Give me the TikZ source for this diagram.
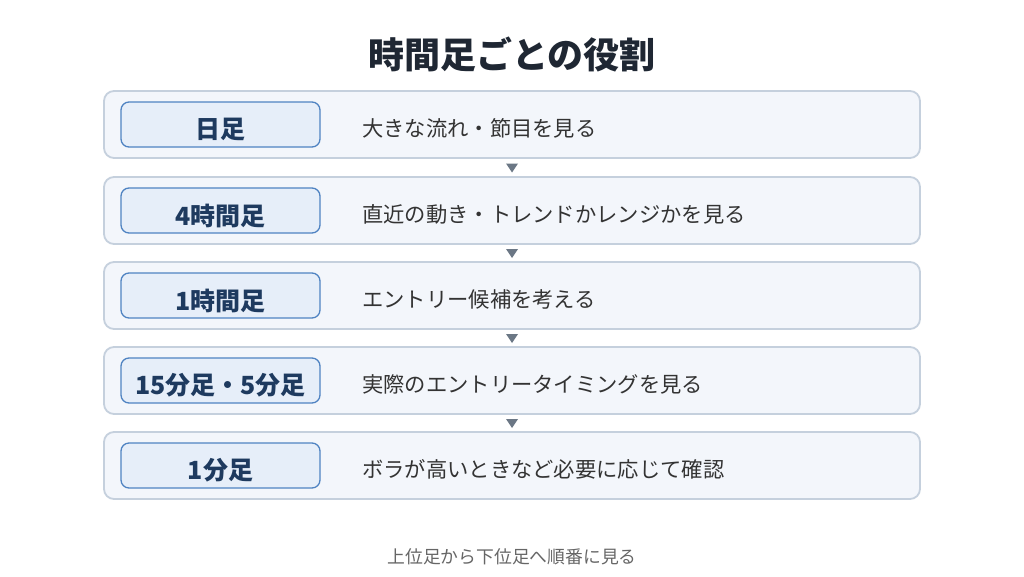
\documentclass[tikz,border=0pt]{standalone}
\usepackage{fontspec}
\setmainfont{Noto Sans CJK JP}
\begin{document}
\begin{tikzpicture}[x=1pt,y=-1pt,
  rowbox/.style={draw=rowborder,line width=1.8pt,fill=rowfill,rounded corners=10pt,minimum width=816pt,minimum height=67pt,inner sep=0pt},
  labbox/.style={draw=labborder,line width=1.3pt,fill=labfill,rounded corners=8pt,minimum width=199pt,minimum height=45pt,inner sep=0pt},
  labtext/.style={font=\bfseries\fontsize{25}{28}\selectfont,text=labtextc,anchor=center,inner sep=0pt},
  desc/.style={font=\fontsize{21.3}{24}\selectfont,text=desctext,anchor=west,inner sep=0pt},
  tri/.style={fill=arrowc,draw=none}]
\definecolor{rowborder}{HTML}{C5D0DD}
\definecolor{rowfill}{HTML}{F3F6FB}
\definecolor{labborder}{HTML}{4F83C2}
\definecolor{labfill}{HTML}{E6EEF9}
\definecolor{labtextc}{HTML}{1E3A5F}
\definecolor{desctext}{HTML}{333333}
\definecolor{arrowc}{HTML}{6B7785}
\definecolor{titlec}{HTML}{1F2733}
\definecolor{footc}{HTML}{666666}
\useasboundingbox[fill=white] (0,0) rectangle (1024,576);
\node[font=\bfseries\fontsize{36}{40}\selectfont,text=titlec] (title) at (512,54) {時間足ごとの役割};
\foreach \i/\y/\lab/\d in {1/124.5/日足/大きな流れ・節目を見る,
  2/210.5/4時間足/直近の動き・トレンドかレンジかを見る,
  3/295.5/1時間足/エントリー候補を考える,
  4/380.5/15分足・5分足/実際のエントリータイミングを見る,
  5/465.5/1分足/ボラが高いときなど必要に応じて確認}{
  \node[rowbox] (row\i) at (512,\y) {};
  \node[labbox] (lab\i) at (220.5,\y) {};
  \node[labtext] (labt\i) at (220.5,\y+5) {\lab};
  \node[desc] (desc\i) at (362,\y+4) {\d};
}
\foreach \a/\b in {1/2,2/3,3/4,4/5}{
  \path (row\a.south) -- (row\b.north) coordinate[pos=0.5] (mid\a);
  \fill[arrowc] ([xshift=-6pt,yshift=4pt]mid\a) -- ([xshift=6pt,yshift=4pt]mid\a) -- ([yshift=-5pt]mid\a) -- cycle;
}
\node[font=\fontsize{17.8}{21}\selectfont,text=footc] (foot) at (512,557) {上位足から下位足へ順番に見る};
\end{tikzpicture}
\end{document}
